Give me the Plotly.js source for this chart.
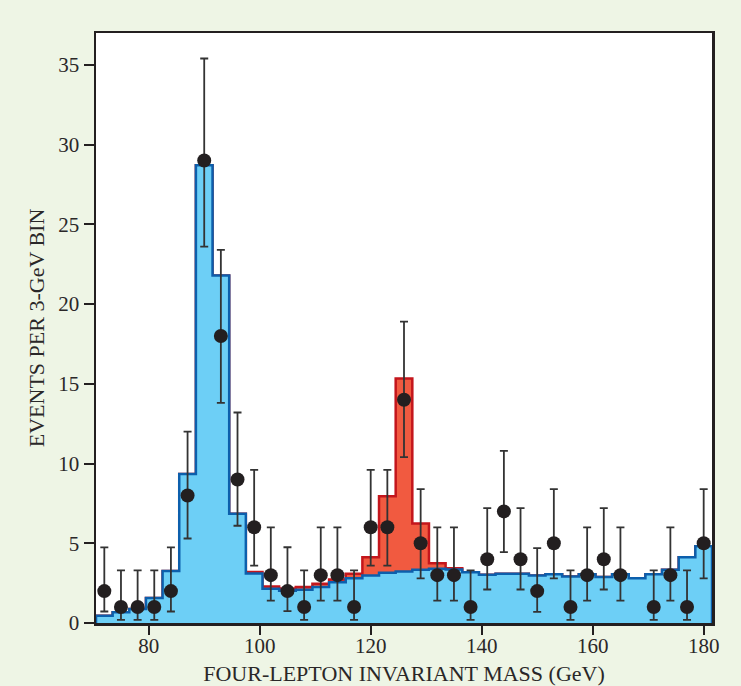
<!DOCTYPE html>
<html>
<head>
<meta charset="utf-8">
<script src="https://cdn.plot.ly/plotly-3.0.1.min.js"></script>
<style>
  html, body { margin: 0; padding: 0; background: #eef5e5; }
  #chart { width: 741px; height: 686px; }
</style>
</head>
<body>
<div id="chart"></div>
<script>
// Bin centres (GeV), 3-GeV bins
const binCenters = [72, 75, 78, 81, 84, 87, 90, 93, 96, 99, 102, 105, 108, 111, 114, 117, 120, 123, 126, 129,
                    132, 135, 138, 141, 144, 147, 150, 153, 156, 159, 162, 165, 168, 171, 174, 177, 180];
// Expected background (ZZ, Z+X) per bin
const background = [0.45, 0.68, 0.88, 1.57, 3.26, 9.35, 28.7, 21.8, 6.85, 3.1, 2.15, 2.02, 2.08, 2.25, 2.56, 2.81, 2.98, 3.15, 3.23, 3.34,
                    3.40, 3.36, 3.19, 3.02, 3.09, 3.09, 2.98, 3.05, 2.92, 3.05, 2.88, 3.05, 2.81, 3.05, 3.34, 4.13, 4.82];
// Expected Higgs signal per bin (stacked on background)
const signal = [0, 0, 0, 0, 0, 0, 0, 0, 0, 0.1, 0.14, 0.15, 0.17, 0.21, 0.17, 0.28, 1.15, 4.8, 12.1, 2.9,
                0.35, 0.08, 0, 0, 0, 0, 0, 0, 0, 0, 0, 0, 0, 0, 0, 0, 0];
// Observed events (null = no events drawn)
const observed = [2, 1, 1, 1, 2, 8, 29, 18, 9, 6, 3, 2, 1, 3, 3, 1, 6, 6, 14, 5,
                  3, 3, 1, 4, 7, 4, 2, 5, 1, 3, 4, 3, null, 1, 3, 1, 5];
// Error-bar upper and lower ends
const errUpper = [4.74, 3.3, 3.3, 3.3, 4.74, 12.0, 35.4, 23.4, 13.2, 9.6, 6.0, 4.75, 3.3, 6.0, 6.0, 3.3, 9.6, 9.6, 18.9, 8.4,
                  6.0, 6.0, 3.3, 7.2, 10.8, 7.2, 4.7, 8.4, 3.3, 6.0, 7.2, 6.0, null, 3.3, 6.0, 3.3, 8.4];
const errLower = [0.72, 0.2, 0.2, 0.2, 0.72, 5.3, 23.6, 13.8, 6.1, 3.6, 1.4, 0.74, 0.2, 1.4, 1.4, 0.2, 3.6, 3.6, 10.4, 2.8,
                  1.4, 1.4, 0.2, 2.1, 4.44, 2.1, 0.7, 2.8, 0.2, 1.4, 2.1, 1.4, null, 0.2, 1.4, 0.2, 2.8];
const xTickVals = [80, 100, 120, 140, 160, 180];
const yTickVals = [0, 5, 10, 15, 20, 25, 30, 35];
const binWidth = 3;

// Build step outlines: left edges + closing right edge
function stepXY(vals) {
  const xs = [binCenters[0] - binWidth / 2];
  const ys = [0];
  binCenters.forEach((c, i) => { xs.push(c - binWidth / 2); ys.push(vals[i]); });
  const lastEdge = binCenters[binCenters.length - 1] + binWidth / 2;
  xs.push(lastEdge); ys.push(vals[vals.length - 1]);
  xs.push(lastEdge); ys.push(0);
  return { xs, ys };
}
const total = background.map((b, i) => b + signal[i]);
const totStep = stepXY(total);
const bgStep = stepXY(background);

const px = [], py = [], pUp = [], pDn = [];
observed.forEach((v, i) => {
  if (v === null) return;
  px.push(binCenters[i]); py.push(v);
  pUp.push(errUpper[i] - v); pDn.push(v - errLower[i]);
});

const traces = [
  { x: totStep.xs, y: totStep.ys, type: 'scatter', mode: 'lines',
    line: { shape: 'hv', color: '#c4161c', width: 2.5 },
    fill: 'tozeroy', fillcolor: '#f15a40', hoverinfo: 'skip' },
  { x: bgStep.xs, y: bgStep.ys, type: 'scatter', mode: 'lines',
    line: { shape: 'hv', color: '#0c5fac', width: 2.5 },
    fill: 'tozeroy', fillcolor: '#6dcff6', hoverinfo: 'skip' },
  { x: px, y: py, type: 'scatter', mode: 'markers',
    marker: { color: '#231f20', size: 14 },
    error_y: { type: 'data', symmetric: false, array: pUp, arrayminus: pDn,
               color: '#333333', thickness: 1.8, width: 4 } }
];

const tickFont = { family: 'Liberation Serif, Times New Roman, serif', size: 21, color: '#2a2728' };
const titleFont = { family: 'Liberation Serif, Times New Roman, serif', size: 22, color: '#2a2728' };
const layout = {
  width: 741, height: 686,
  paper_bgcolor: '#eef5e5', plot_bgcolor: '#ffffff',
  margin: { l: 96, r: 29, t: 33, b: 63 },
  showlegend: false,
  xaxis: {
    range: [70.5, 181.5], tickvals: xTickVals, ticks: 'outside', ticklen: 9, tickwidth: 2,
    tickcolor: '#231f20', showline: true, linecolor: '#231f20', linewidth: 2.5, mirror: true,
    showgrid: false, zeroline: false, tickfont: tickFont, ticklabelstandoff: -7,
    automargin: false,
    title: { text: 'FOUR-LEPTON INVARIANT MASS (GeV)', font: titleFont, standoff: 10 }
  },
  yaxis: {
    range: [0, 37], tickvals: yTickVals, ticks: 'outside', ticklen: 10, tickwidth: 2,
    tickcolor: '#231f20', showline: true, linecolor: '#231f20', linewidth: 2.5, mirror: true,
    showgrid: false, zeroline: false, tickfont: tickFont,
    title: { text: 'EVENTS PER 3-GeV BIN', font: titleFont, standoff: 8 }
  }
};
Plotly.newPlot('chart', traces, layout, { displayModeBar: false, staticPlot: true });
</script>
</body>
</html>
